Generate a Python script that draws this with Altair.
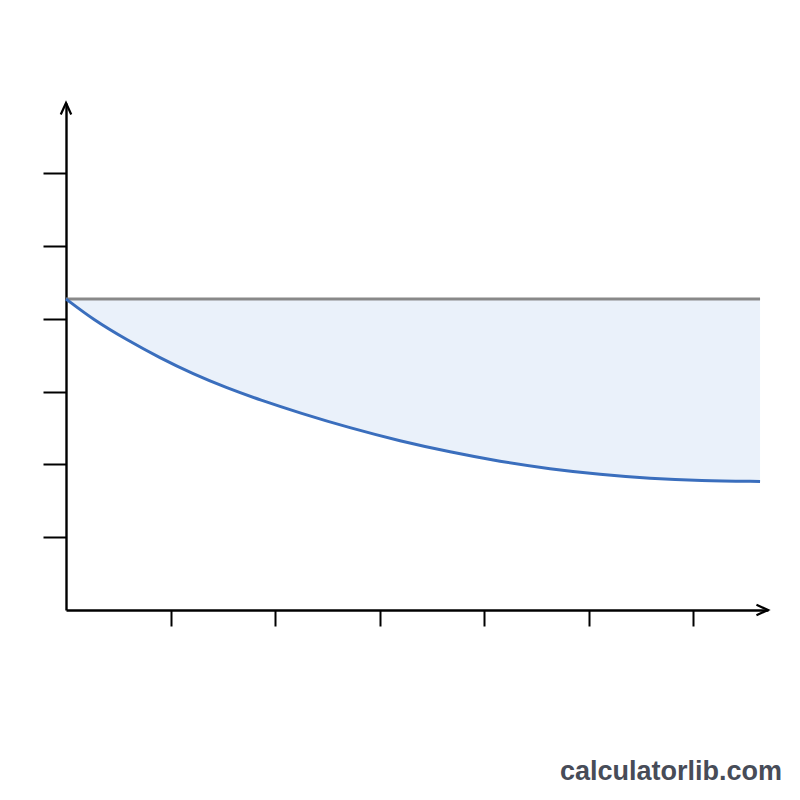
import altair as alt
import pandas as pd

# ---- data ----
curve_x = [0, 0.258, 0.583, 0.899, 1.215, 1.540, 1.856, 2.238, 2.716, 3.195,
           3.673, 4.151, 4.629, 5.108, 5.586, 6.064, 6.638]
curve_y = [4.272, 3.990, 3.709, 3.462, 3.242, 3.049, 2.885, 2.706, 2.500, 2.321,
           2.170, 2.040, 1.937, 1.862, 1.806, 1.776, 1.765]
baseline_y = 4.272
baseline_x_start = 0
baseline_x_end = 6.638
x_ticks = [1, 2, 3, 4, 5, 6]
y_ticks = [1, 2, 3, 4, 5, 6]
x_max = 6.714
y_max = 6.964
watermark = "calculatorlib.com"

curve = pd.DataFrame({"x": curve_x, "y": curve_y, "base": [baseline_y] * len(curve_x)})
base_df = pd.DataFrame({"x": [baseline_x_start], "x2": [baseline_x_end], "y": [baseline_y]})
x_arrow = pd.DataFrame({"x": [x_max], "y": [0]})
y_arrow = pd.DataFrame({"x": [0], "y": [y_max]})

xs = alt.Scale(domain=[0, x_max], nice=False, zero=False)
ys = alt.Scale(domain=[0, y_max], nice=False, zero=False)

x_axis = alt.Axis(values=x_ticks, labels=False, grid=False, title=None,
                  tickSize=16, tickWidth=2, tickColor="black",
                  domainColor="black", domainWidth=2.4)
y_axis = alt.Axis(values=y_ticks, labels=False, grid=False, title=None,
                  tickSize=23, tickWidth=2, tickColor="black",
                  domainColor="black", domainWidth=2.4)


def X(field):
    return alt.X(field, scale=xs, axis=x_axis)


def Y(field):
    return alt.Y(field, scale=ys, axis=y_axis)


area = alt.Chart(curve).mark_area(color="#eaf1fa", opacity=1, interpolate="basis").encode(
    x=X("x:Q"), y=Y("y:Q"), y2="base:Q",
)

line = alt.Chart(curve).mark_line(color="#3a6ebd", strokeWidth=3, interpolate="basis").encode(
    x=X("x:Q"), y=Y("y:Q"),
)

rule = alt.Chart(base_df).mark_rule(color="#898989", strokeWidth=3).encode(
    x=X("x:Q"), x2="x2:Q", y=Y("y:Q"),
)

arrow_x = alt.Chart(x_arrow).mark_point(
    shape="M-2.2,-1L0,0L-2.2,1", size=110, filled=False, stroke="black",
    strokeWidth=2.2, opacity=1).encode(
    x=X("x:Q"), y=Y("y:Q"),
)

arrow_y = alt.Chart(y_arrow).mark_point(
    shape="M-1,2.2L0,0L1,2.2", size=110, filled=False, stroke="black",
    strokeWidth=2.2, opacity=1).encode(
    x=X("x:Q"), y=Y("y:Q"),
)

text = alt.Chart(pd.DataFrame({"t": [watermark]})).mark_text(
    align="right", baseline="alphabetic", font="Liberation Sans", fontWeight="bold",
    fontSize=27, color="#474c58").encode(
    text="t:N",
    x=alt.value(716),
    y=alt.value(677),
)

chart = alt.layer(area, rule, line, arrow_x, arrow_y, text).properties(
    width=702, height=507,
    autosize=alt.AutoSizeParams(type="none"),
    padding={"left": 58, "top": 95, "right": 24, "bottom": 180},
    background="white",
).configure_view(stroke=None)

chart.save("out.html", embed_options={"renderer": "svg", "actions": False})
